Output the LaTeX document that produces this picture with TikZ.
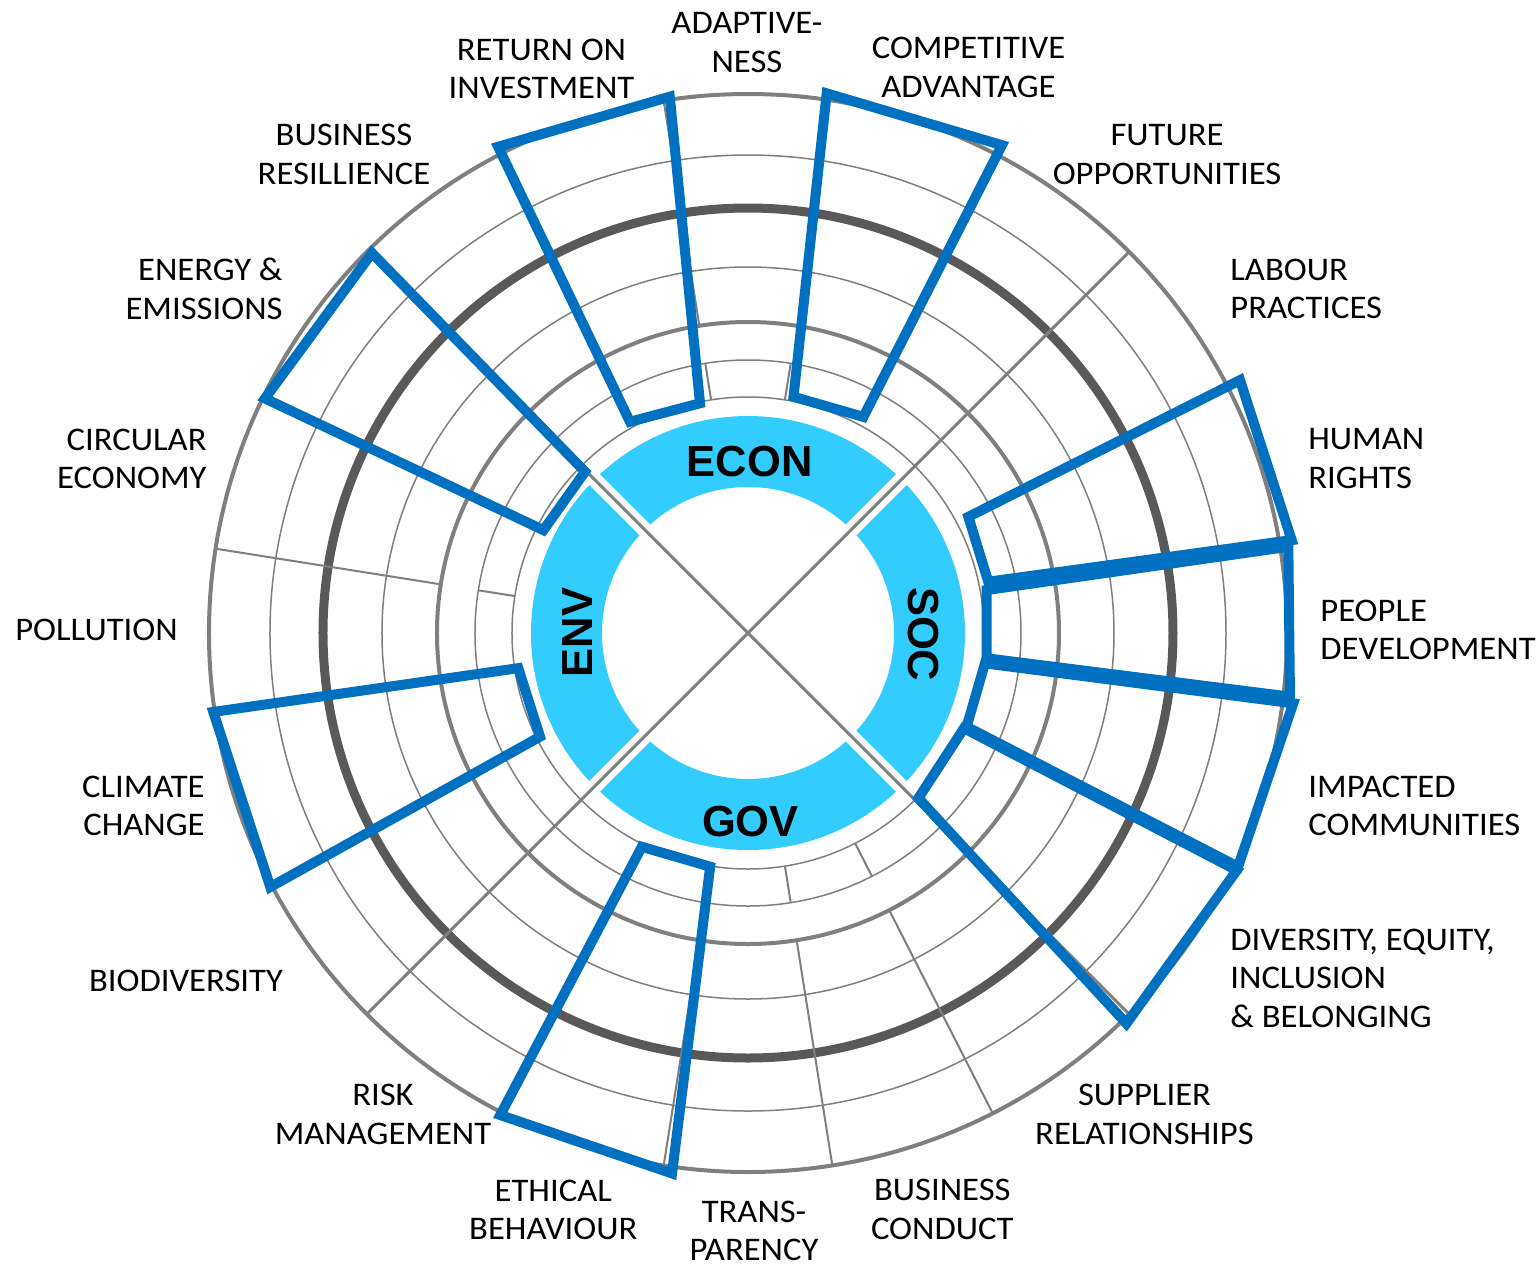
\documentclass[tikz,border=0pt]{standalone}
\usepackage{fontspec}
\setmainfont{Carlito}[FakeStretch=1.05]
\newfontfamily\hubfont{Liberation Sans}
\usepackage{tikz}

\definecolor{barblue}{HTML}{0070C0}
\definecolor{hubblue}{HTML}{33CCFF}
\definecolor{gridgray}{HTML}{7F7F7F}
\definecolor{ringdark}{HTML}{595959}

\tikzset{
  lbl/.style={inner sep=0pt, font=\fontsize{16.5}{19.25}\selectfont},
  hub/.style={inner sep=0pt, font=\hubfont\bfseries\fontsize{21.75}{26}\selectfont},
  bar/.style={draw=barblue, line width=5pt},
  ring/.style={draw=gridgray, line width=0.75pt},
  spoke/.style={draw=gridgray, line width=1pt},
}

\begin{document}
\begin{tikzpicture}[x=0.5pt,y=0.5pt]
    \useasboundingbox (-748,-638) rectangle (789,633);
    \coordinate (c) at (0,0);
    \draw[ring] (c) circle[radius=236] (c) circle[radius=273]
                (c) circle[radius=366] (c) circle[radius=478];
    \draw[gridgray, line width=2pt] (c) circle[radius=311] (c) circle[radius=539];
    \draw[ringdark, line width=4.5pt] (c) circle[radius=425];
    \path[spoke]
        (171:236) edge (171:273)
        (171:311) edge (171:539)
        (279:236) edge (279:273)
        (279:311) edge (279:539)
        (297:236) edge (297:273)
        (297:311) edge (297:539)
        (81:236) edge (81:273)
        (99:236) edge (99:273)
        (99:311) edge (99:539)
        (261:311) edge (261:539);
    \fill[hubblue, even odd rule] (c) circle[radius=217] (c) circle[radius=146];
    \draw[white, line width=7.5pt] (45:225) -- (225:225) (135:225) -- (315:225);
    \draw[gridgray, line width=1.5pt] (45:539) -- (225:539) (135:539) -- (315:539);

    \draw[bar] (119.2:242) -- (117.2:546.7) -- (98.3:542) -- (101.8:234.7) -- cycle;
    \draw[bar] (79.1:240.6) -- (81.7:545.4) -- (62.5:550) -- (61.9:245) -- cycle;
    \draw[bar] (135.3:229.3) -- (134.7:534.6) -- (154.1:537) -- (153.3:229) -- cycle;
    \draw[bar] (188.7:232.4) -- (188.4:540.5) -- (208:541) -- (206.5:232.4) -- cycle;
    \draw[bar] (27.8:249.1) -- (27.2:553.2) -- (9.7:551.6) -- (12.05:245.7) -- cycle;
    \draw[bar] (10.2:242.5) -- (9.07:547.2) -- (-6.7:545.7) -- (-6.05:240) -- cycle;
    \draw[bar] (-7.3:238.9) -- (-7.35:549.8) -- (-25.5:543) -- (-23.2:237.9) -- cycle;
    \draw[bar] (-23.8:236) -- (-25.9:543.4) -- (-45.9:543.8) -- (-44.1:237.3) -- cycle;
    \draw[bar] (-99.2:236.7) -- (-98:545.7) -- (-117.2:542) -- (-116.4:238.7) -- cycle;

    \node[hub] (econ) at (1.7,171.3) {ECON};
    \node[hub, rotate=-90] (soc) at (175.7,-1.2) {SOC};
    \node[hub] (gov) at (2.5,-188.3) {GOV};
    \node[hub, rotate=90] (env) at (-170.7,0.5) {ENV};

    \node[lbl, align=center] (adapt) at (-1,590.7) {ADAPTIVE-\\NESS};
    \node[lbl, align=center] (compadv) at (220.5,565.5) {COMPETITIVE\\ADVANTAGE};
    \node[lbl, align=center] (future) at (419,478.5) {FUTURE\\OPPORTUNITIES};
    \node[lbl, align=left, anchor=west] (labour) at (482,344) {LABOUR\\PRACTICES};
    \node[lbl, align=left, anchor=west] (human) at (560,174.5) {HUMAN\\RIGHTS};
    \node[lbl, align=left, anchor=west] (people) at (572,3) {PEOPLE\\DEVELOPMENT};
    \node[lbl, align=left, anchor=west] (impact) at (560,-173) {IMPACTED\\COMMUNITIES};
    \node[lbl, align=left, anchor=west] (dei) at (482,-345) {DIVERSITY, EQUITY,\\INCLUSION\\\& BELONGING};
    \node[lbl, align=center] (supplier) at (396.5,-481.5) {SUPPLIER\\RELATIONSHIPS};
    \node[lbl, align=center] (conduct) at (194.3,-576.5) {BUSINESS\\CONDUCT};
    \node[lbl, align=center] (transp) at (6,-598) {TRANS-\\PARENCY};
    \node[lbl, align=center] (ethical) at (-194.7,-577) {ETHICAL\\BEHAVIOUR};
    \node[lbl, align=center] (risk) at (-365,-481.5) {RISK\\MANAGEMENT};
    \node[lbl] (biodiv) at (-562,-348) {BIODIVERSITY};
    \node[lbl, align=right, anchor=east] (climate) at (-543,-173) {CLIMATE\\CHANGE};
    \node[lbl] (pollution) at (-651.5,3) {POLLUTION};
    \node[lbl, align=right, anchor=east] (circular) at (-541,174) {CIRCULAR\\ECONOMY};
    \node[lbl, align=right, anchor=east] (energy) at (-465,344) {ENERGY \&\\EMISSIONS};
    \node[lbl, align=center] (resil) at (-404,478.5) {BUSINESS\\RESILLIENCE};
    \node[lbl, align=center] (roi) at (-206.5,564.3) {RETURN ON\\INVESTMENT};
\end{tikzpicture}
\end{document}
